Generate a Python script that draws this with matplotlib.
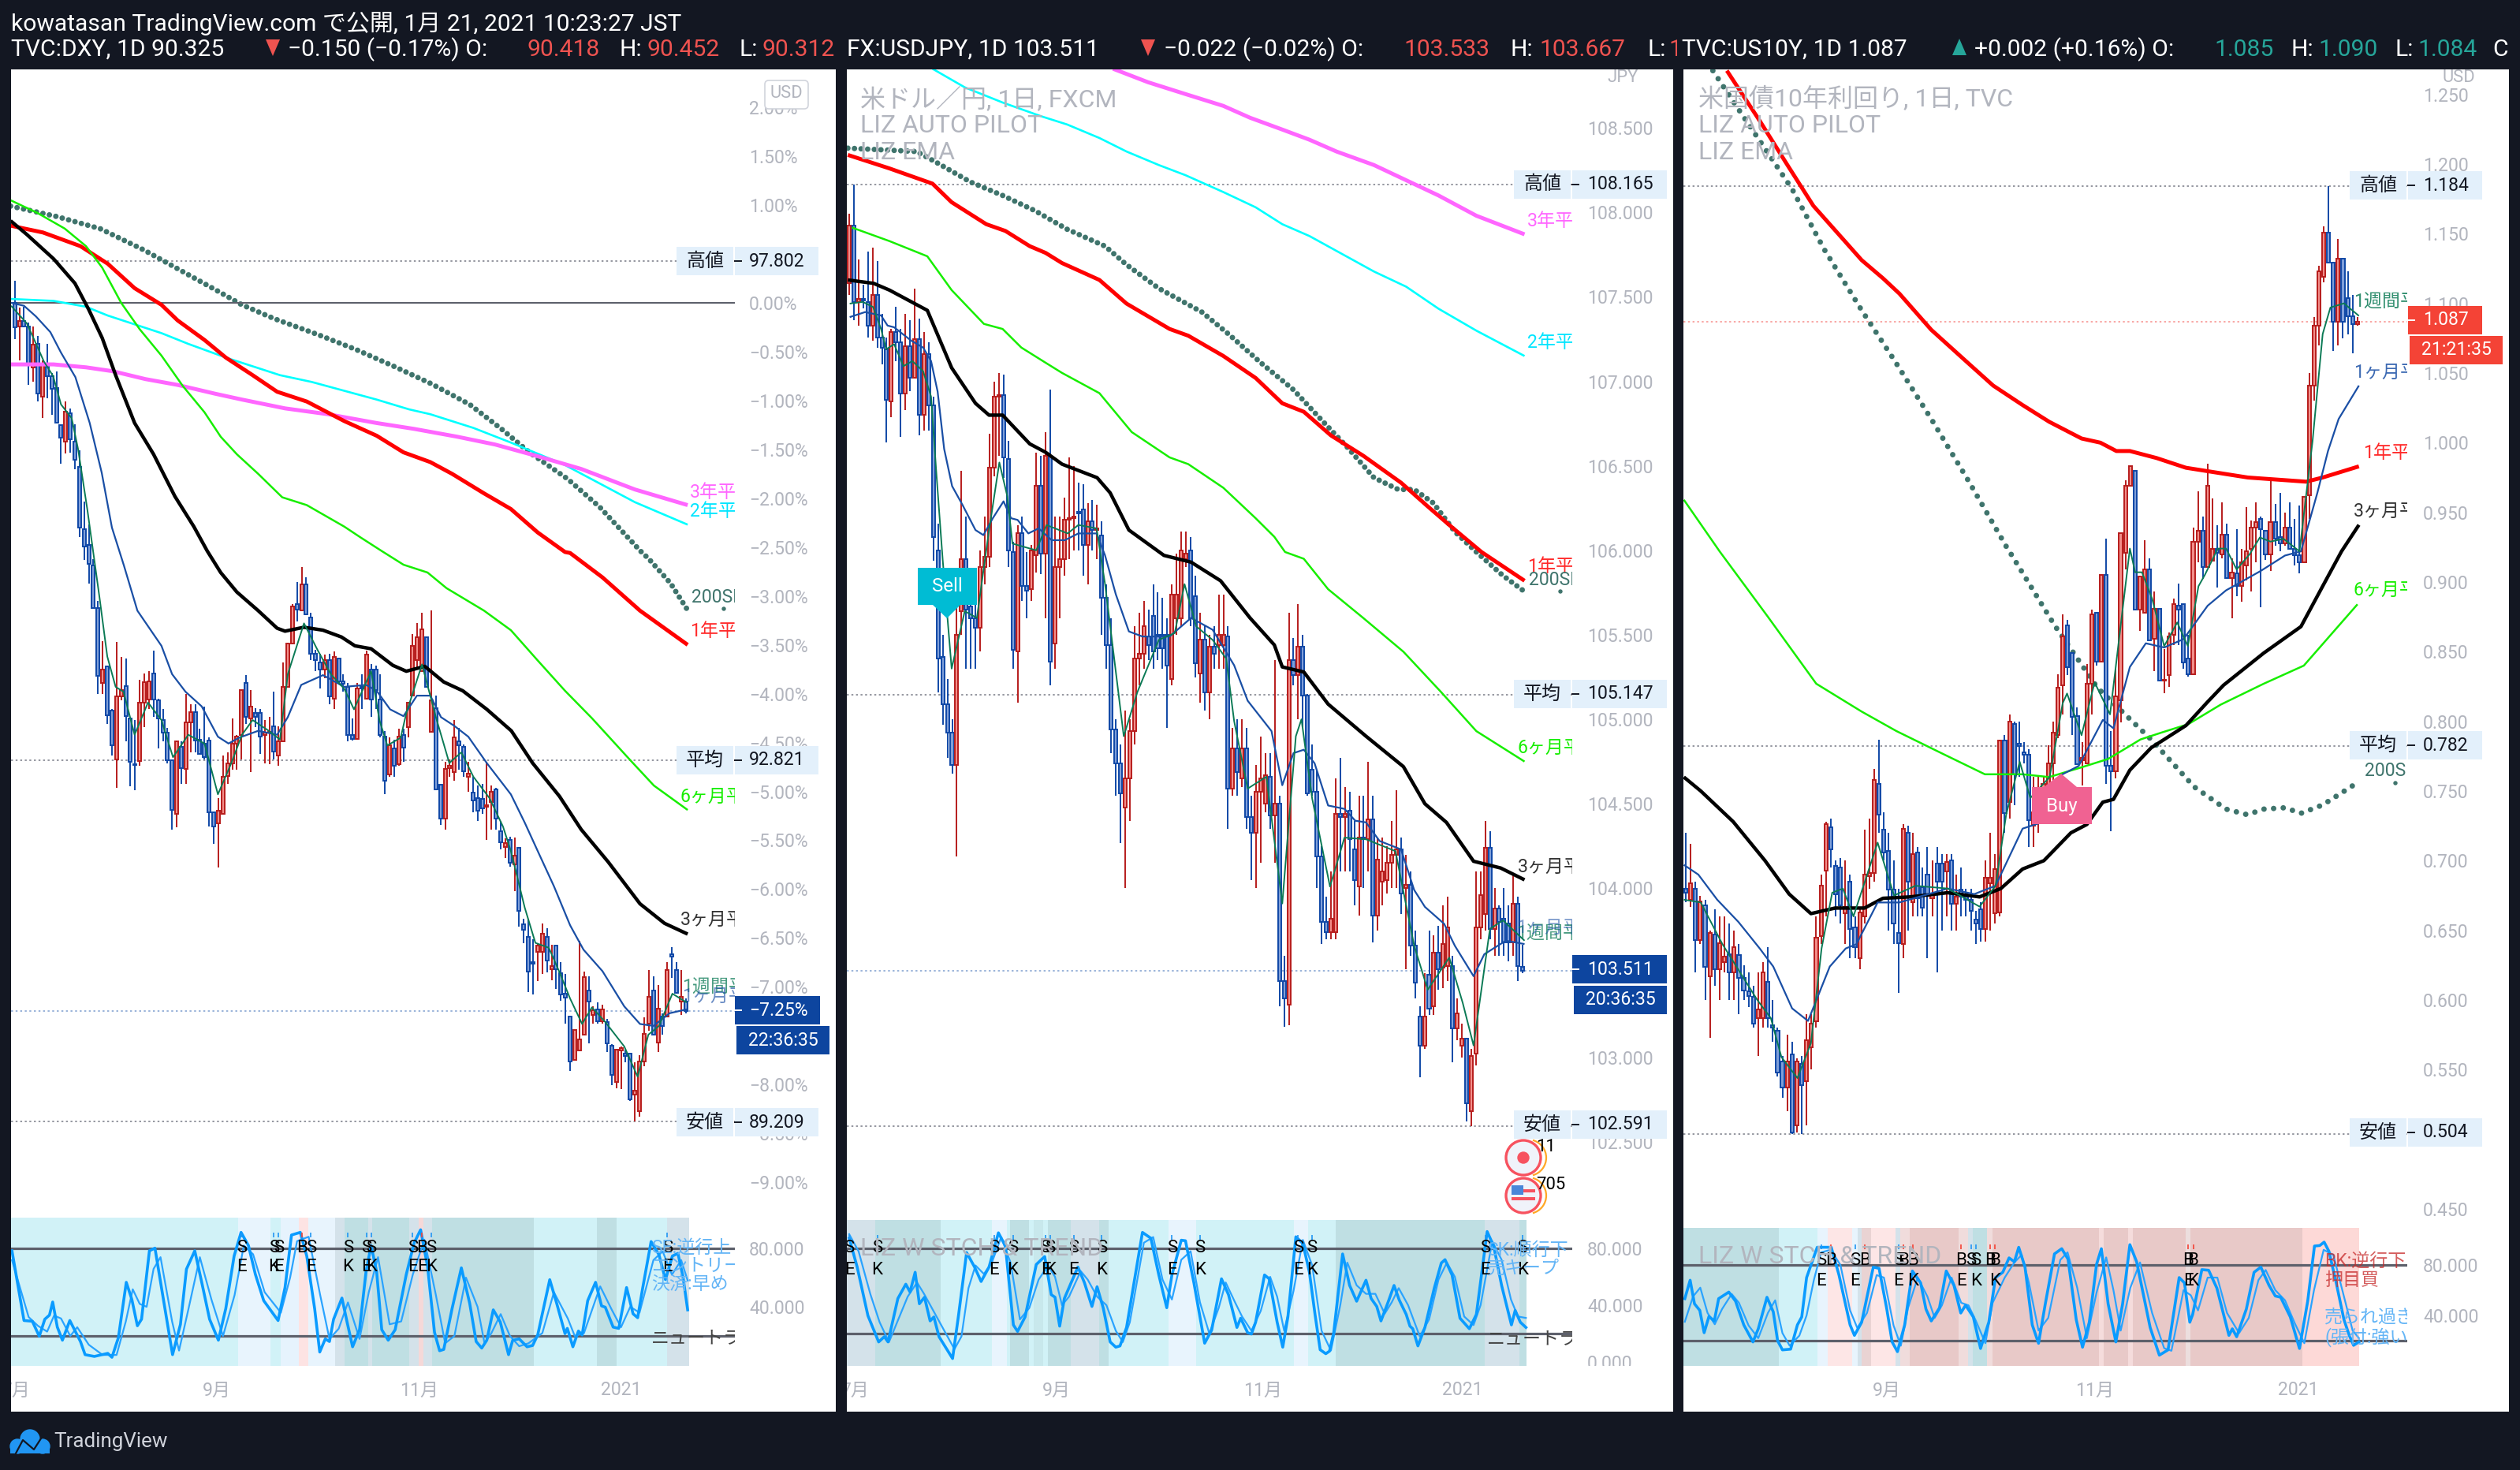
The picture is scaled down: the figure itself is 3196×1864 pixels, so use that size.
import matplotlib
matplotlib.use('Agg')
import matplotlib.pyplot as plt
from matplotlib.patches import Rectangle, Polygon, Circle, Arc, FancyBboxPatch
from matplotlib.transforms import Affine2D, Bbox, blended_transform_factory

plt.rcParams['font.family'] = ['Roboto', 'Noto Sans CJK JP', 'DejaVu Sans']

W, H = 3196, 1864
BG = '#131722'
GREY = '#b2b5be'
BOX = '#e3f0fb'
BLUE_EDGE, BLUE_FILL = '#0f47a6', '#7f9fd9'
RED_EDGE, RED_FILL = '#b71c1c', '#f28e8a'

# ---------- DXY, percent scale ----------
dxy_open = [0, -.245, -.183, -.245, -.66, -.42, -.96, -.65, -.75, -.87,
            -1.25, -1.42, -1.13, -1.42, -1.68, -2.32, -2.48, -2.69, -3.12, -3.89,
            -3.72, -4.17, -4.67, -4.03, -3.92, -4.25, -4.72, -4.69, -4.09, -4.06,
            -3.79, -4.07, -4.27, -4.40, -4.68, -5.23, -4.54, -4.77, -4.29, -4.19,
            -4.47, -4.51, -4.48, -5.21, -5.33, -5.23, -4.84, -4.71, -4.51, -4.42,
            -3.89, -4.25, -4.20, -4.20, -4.42, -4.40, -4.33, -4.63, -4.49, -3.93,
            -3.49, -3.08, -3.15, -2.88, -3.22, -3.59, -3.68, -3.75, -3.66, -4.05,
            -3.64, -3.87, -3.93, -4.42, -4.46, -3.93, -4.05, -3.75, -3.75, -4.06,
            -4.44, -4.83, -4.56, -4.72, -4.42, -4.34, -4.02, -3.66, -3.77, -3.42,
            -4.39, -4.15, -4.93, -5.28, -4.76, -4.80, -4.49, -4.54, -4.85, -5.01,
            -5.07, -5.08, -5.16, -5.11, -4.98, -5.41, -5.57, -5.50, -5.75, -5.58,
            -6.36, -6.49, -6.75, -6.64, -6.64, -6.49, -6.82, -6.58, -6.86, -7.07,
            -7.30, -7.75, -7.65, -7.49, -7.04, -7.29, -7.23, -7.35, -7.36, -7.60,
            -7.97, -7.65, -7.68, -7.68, -8.10, -8.27, -7.76, -7.38, -7.04, -7.57,
            -7.30, -7.30, -6.67, -6.83, -7.15, -7.15]
dxy_close = [-.25, -.183, -.245, -.64, -.43, -.93, -.62, -.75, -.88, -1.23,
             -1.38, -1.11, -1.40, -1.61, -2.30, -2.49, -2.67, -3.12, -3.82, -3.75,
             -4.22, -4.53, -4.03, -3.96, -4.23, -4.70, -4.73, -4.09, -3.88, -3.87,
             -4.06, -4.25, -4.40, -4.68, -5.19, -4.49, -4.76, -4.29, -4.19, -4.48,
             -4.62, -4.65, -5.21, -5.36, -5.20, -4.85, -4.71, -4.51, -4.44, -3.96,
             -4.24, -4.13, -4.24, -4.44, -4.40, -4.39, -4.59, -4.49, -3.93, -3.49,
             -3.11, -3.14, -2.88, -3.19, -3.59, -3.66, -3.75, -3.66, -4.03, -3.62,
             -3.87, -3.90, -4.42, -4.46, -3.95, -3.95, -3.60, -4.06, -3.96, -4.42,
             -4.89, -4.53, -4.74, -4.44, -4.55, -4.09, -3.51, -3.42, -3.34, -3.93,
             -4.07, -4.98, -5.28, -4.77, -4.74, -4.45, -4.53, -4.79, -4.82, -5.09,
             -5.20, -5.17, -5.14, -5.0, -5.28, -5.52, -5.53, -5.73, -5.66, -6.22,
             -6.42, -6.84, -6.76, -6.58, -6.46, -6.73, -6.79, -6.82, -7.08, -7.11,
             -7.76, -7.44, -7.54, -6.90, -7.15, -7.24, -7.35, -7.23, -7.58, -7.90,
             -7.64, -7.63, -7.71, -8.15, -8.06, -7.76, -7.48, -7.10, -7.49, -7.22,
             -7.40, -6.83, -6.69, -7.06, -7.10, -7.25]
dxy_high = [.23, -.05, -.04, -.2, -.245, -.34, -.59, -.42, -.72, -.70,
            -1.25, -1.01, -1.08, -1.24, -1.51, -2.03, -2.27, -2.62, -3.05, -3.46,
            -3.72, -4.16, -3.47, -3.62, -3.64, -4.25, -4.27, -3.86, -3.79, -3.77,
            -3.56, -4.05, -4.16, -4.35, -4.67, -4.49, -4.49, -4.0, -4.11, -4.11,
            -4.36, -4.13, -4.45, -5.21, -5.07, -4.63, -4.6, -4.25, -4.42, -3.96,
            -3.81, -3.96, -4.15, -4.16, -4.27, -4.24, -3.98, -4.33, -3.68, -3.48,
            -3.08, -2.86, -2.70, -2.81, -3.17, -3.55, -3.59, -3.6, -3.59, -3.57,
            -3.64, -3.80, -3.89, -4.25, -3.89, -3.80, -3.56, -3.70, -3.71, -3.80,
            -4.38, -4.45, -4.47, -4.36, -4.36, -4.09, -3.39, -3.28, -3.17, -3.42,
            -3.15, -4.02, -4.92, -4.70, -4.67, -4.27, -4.35, -4.52, -4.70, -4.85,
            -4.94, -4.92, -4.70, -4.94, -4.96, -5.30, -5.48, -5.46, -5.47, -5.57,
            -6.30, -6.30, -6.51, -6.56, -6.35, -6.40, -6.57, -6.58, -6.75, -6.87,
            -7.30, -7.44, -6.53, -6.84, -6.89, -7.20, -7.16, -7.18, -7.33, -7.59,
            -7.64, -7.61, -7.64, -7.68, -7.77, -7.70, -7.31, -6.83, -6.89, -6.98,
            -7.27, -6.75, -6.59, -6.75, -6.83, -7.12]
dxy_low = [-.37, -.59, -.25, -.84, -.81, -1.01, -1.18, -.98, -1.15, -1.23,
           -1.65, -1.54, -1.53, -1.70, -2.40, -2.63, -2.87, -3.12, -4.0, -4.0,
           -4.31, -4.63, -4.96, -4.07, -4.49, -4.95, -4.99, -4.74, -4.34, -4.16,
           -4.24, -4.56, -4.49, -4.71, -5.39, -5.37, -4.92, -4.92, -4.6, -4.60,
           -4.62, -4.67, -5.36, -5.54, -5.78, -5.23, -4.92, -4.78, -4.78, -4.67,
           -4.31, -4.80, -4.34, -4.62, -4.71, -4.72, -4.67, -4.74, -4.49, -3.93,
           -3.49, -3.26, -3.15, -3.19, -3.66, -3.77, -3.95, -3.84, -4.11, -4.16,
           -3.91, -3.98, -4.49, -4.48, -4.47, -4.16, -4.06, -4.24, -4.16, -4.45,
           -5.03, -4.85, -4.85, -4.74, -4.70, -4.45, -4.02, -3.73, -3.77, -3.93,
           -4.39, -4.98, -5.34, -5.39, -4.85, -4.89, -4.78, -4.85, -5.0, -5.21,
           -5.30, -5.23, -5.5, -5.39, -5.39, -5.59, -5.68, -5.77, -6.02, -6.38,
           -6.55, -7.05, -7.08, -6.94, -6.87, -6.85, -6.93, -7.02, -7.14, -7.38,
           -7.86, -7.75, -7.65, -7.49, -7.58, -7.38, -7.38, -7.38, -7.67, -8.01,
           -8.04, -8.05, -7.77, -8.17, -8.38, -8.33, -7.81, -7.45, -7.49, -7.67,
           -7.49, -7.31, -6.91, -7.07, -7.29, -7.27]

dxy_sma_x = [-.9, 9.1, 18.5, 27.9, 36.1, 44.3, 49, 56, 65.4, 73.6, 81.8, 90, 98.3, 105.3, 111.2, 119.4, 126.4, 135.2, 137, 141.7, 145.4]
dxy_sma_y = [.99, .883, .758, .541, .325, .109, -.018, -.161, -.323, -.475, -.647, -.828, -1.04, -1.296, -1.53, -1.80, -2.09, -2.54, -2.62, -2.87, -3.145]
dxy_y1_x = [-.9, 6.1, 14.2, 20.1, 25.9, 31.7, 35.2, 41, 45.6, 51.4, 56.7, 63.1, 71.2, 78.2, 84, 89.8, 94.5, 101.4, 107.2, 113, 118.9, 120, 127, 135.1, 145.4]
dxy_y1_y = [.79, .72, .58, .40, .15, -.02, -.18, -.38, -.56, -.74, -.91, -1.01, -1.21, -1.36, -1.53, -1.63, -1.75, -1.95, -2.11, -2.35, -2.55, -2.56, -2.81, -3.15, -3.50]
dxy_y3_x = [-.9, 8.4, 15.4, 21.2, 28.2, 35.2, 43.3, 49.1, 58.4, 67.7, 78.2, 86.3, 95.6, 103.8, 113, 122.4, 134, 145.4]
dxy_y3_y = [-.63, -.63, -.66, -.70, -.78, -.84, -.93, -.99, -1.08, -1.14, -1.23, -1.29, -1.37, -1.45, -1.57, -1.70, -1.91, -2.07]
dxy_y2_x = [-.9, 8.4, 15.4, 20.1, 25.9, 31.7, 37.5, 45.6, 57.3, 64.2, 78.2, 85.2, 89.8, 99.1, 107.2, 118.9, 134, 145.4]
dxy_y2_y = [.04, .02, -.04, -.13, -.22, -.31, -.42, -.56, -.74, -.81, -.99, -1.09, -1.14, -1.28, -1.43, -1.66, -2.04, -2.27]
dxy_m6_x = [-.9, 4.9, 10.8, 15.4, 18.9, 23, 27, 31.7, 36.3, 41, 44.5, 48, 52.6, 57.8, 63.1, 71.2, 74.7, 79.3, 84, 89.2, 93.3, 101.4, 107.2, 113, 118.9, 124.7, 132.8, 138.1, 145.4]
dxy_m6_y = [1.05, .92, .76, .58, .36, 0, -.27, -.54, -.85, -1.12, -1.37, -1.55, -1.75, -1.99, -2.07, -2.29, -2.40, -2.54, -2.68, -2.76, -2.92, -3.15, -3.35, -3.66, -3.97, -4.25, -4.67, -4.94, -5.19]
dxy_m3_x = [-.9, 2.6, 8.4, 13, 16, 18.9, 21.8, 25.9, 30, 34.6, 38.7, 41.6, 44.5, 48, 52.6, 56.7, 58.4, 62.5, 66.6, 70.6, 73.5, 77, 81.7, 84.6, 88.6, 92.7, 96.8, 102, 107.3, 111.9, 117.7, 122.4, 128.2, 135.1, 140.4, 145.4]
dxy_m3_y = [.84, .70, .45, .20, -.07, -.36, -.74, -1.23, -1.55, -1.98, -2.29, -2.54, -2.76, -2.96, -3.15, -3.33, -3.36, -3.32, -3.35, -3.42, -3.51, -3.54, -3.71, -3.77, -3.72, -3.88, -3.97, -4.16, -4.38, -4.71, -5.05, -5.39, -5.72, -6.15, -6.35, -6.46]
dxy_m1_x = [-.8, 2, 4.6, 7.7, 10, 13.1, 16.2, 18.8, 21, 23.6, 26.5, 31.7, 34, 36.9, 40.4, 43.9, 46.2, 48.5, 52.6, 56.7, 59, 61.9, 66.6, 71.2, 75.9, 78.2, 81.1, 84, 86.9, 89.8, 92.1, 95, 98, 102, 107.2, 110.2, 113, 116.5, 120, 122.9, 127, 131.7, 135.1, 138, 141.5, 145.2]
dxy_m1_y = [0, -.03, -.14, -.30, -.51, -.76, -1.23, -1.74, -2.30, -2.69, -3.15, -3.51, -3.80, -3.98, -4.13, -4.44, -4.51, -4.45, -4.38, -4.42, -4.24, -3.91, -3.81, -3.93, -3.91, -3.97, -4.16, -4.23, -4.02, -4.02, -4.24, -4.33, -4.44, -4.71, -5.03, -5.32, -5.61, -5.97, -6.37, -6.62, -6.84, -7.20, -7.38, -7.40, -7.27, -7.23]
dxy_w1_x = [-.8, 2.6, 4.9, 6.3, 8.3, 10, 12.3, 13.7, 15.7, 18.3, 20, 21.8, 23.5, 25.9, 28.8, 31.7, 34.2, 37.5, 41, 43.9, 46.8, 49.1, 51.4, 54.9, 57.3, 59, 62.5, 65.4, 68.3, 71.2, 73.3, 77, 78.8, 80.5, 83.4, 84.6, 88, 91, 93.9, 96.5, 99.1, 102.6, 105.5, 107.2, 110.2, 112.5, 115.4, 117.7, 120, 122.6, 124.7, 127.6, 131.7, 134.6, 136.9, 139.2, 142.1, 145.2]
dxy_w1_y = [-.03, -.21, -.45, -.60, -.75, -1.04, -1.18, -1.50, -2.12, -3.01, -3.62, -3.93, -3.98, -4.42, -4.09, -4.27, -4.65, -4.42, -4.51, -5.03, -4.71, -4.42, -4.27, -4.38, -4.47, -3.80, -3.28, -3.55, -3.80, -3.95, -4.16, -3.77, -4.27, -4.53, -4.45, -4.20, -3.70, -4.24, -4.71, -4.60, -4.85, -5.07, -5.36, -5.61, -6.19, -6.55, -6.60, -6.85, -7.12, -7.38, -7.21, -7.36, -7.61, -7.92, -7.49, -7.40, -7.07, -7.16]

dxy_k_x = [-.6, 2, 3.8, 5.3, 6.5, 7.5, 8.2, 9.2, 10.3, 11.9, 14.2, 15.2, 17.2, 20.1, 21, 22.4, 24.1, 25.3, 26.5, 27.4, 29.1, 30.3, 31.7, 34.1, 35.8, 37.1, 38.9, 40.4, 42.1, 44, 45.6, 47.4, 48.9, 50.5, 52, 53.8, 56.9, 58.4, 59.8, 61.7, 63.1, 64.8, 65.9, 67.1, 68, 68.9, 70.7, 71.8, 73, 74.5, 75.9, 77, 78.2, 79.3, 80.7, 82.2, 84.6, 86.3, 87.7, 89.2, 90.7, 91.8, 92.7, 94.5, 96.5, 98.3, 99.7, 100.9, 102, 103.4, 104.9, 106.7, 107.6, 109, 110.7, 111.9, 113, 115.6, 117.1, 118.9, 119.4, 120.6, 121.8, 122.6, 123.8, 125.5, 126.8, 127.6, 129.3, 130.5, 132.2, 133.6, 134.6, 135.7, 137.5, 139.2, 140.6, 142.1, 143.3, 144.4, 145.4]
dxy_k_y = [78.4, 30.6, 30.1, 19.8, 31.5, 34.3, 43.3, 26.1, 17.1, 30.6, 16.2, 7.2, 6, 8.1, 5.4, 18.9, 56.8, 45.1, 27, 31.5, 78.4, 80.2, 53.2, 7.2, 27.9, 65.8, 78.4, 56.8, 31.5, 17.1, 38.8, 74.8, 91, 82, 62.2, 44.2, 30.6, 53.2, 89.2, 91, 74.8, 38.8, 9, 18, 16.2, 31.5, 46, 29.7, 12.6, 24.3, 64, 82, 64, 24.3, 17.1, 24.3, 62.2, 83.8, 92.8, 67.6, 22.5, 9.9, 10.8, 38.8, 66.7, 42.4, 16.2, 11.7, 17.1, 37.9, 29.7, 7.2, 17.1, 18, 12.6, 13.5, 20.7, 58.6, 42.4, 21.6, 25.2, 12.6, 23.4, 20.7, 44.2, 56.8, 40.6, 39.7, 26.1, 25.2, 53.2, 35.2, 32.5, 53.2, 84.7, 75.7, 58.6, 74.8, 76.6, 60.4, 37.9]
dxy_d_x = [-.6, 3, 5, 7, 8.5, 10, 12, 13.5, 16, 19, 22, 24, 25.5, 27, 28.5, 30, 31.5, 34, 35.5, 37.5, 40, 42.5, 45, 47.5, 49.5, 51.5, 54, 57.5, 59.5, 61, 63.5, 66, 68, 70, 72, 74.5, 76.5, 78.5, 81, 83.5, 86, 88.5, 91, 93, 95, 97.5, 100, 101.5, 103, 105, 107, 109, 111, 114, 116.5, 119.5, 121, 123, 126.5, 129, 131, 133, 135, 138, 140, 142, 144, 145.4]
dxy_d_y = [72, 33, 27, 23, 34, 32, 20, 26, 14, 7, 7, 30, 52, 42, 40, 66, 74, 30, 10, 38, 74, 45, 20, 48, 82, 76, 50, 36, 60, 85, 88, 48, 18, 25, 43, 18, 50, 74, 28, 30, 62, 86, 48, 15, 20, 60, 40, 15, 22, 35, 20, 13, 15, 22, 50, 32, 20, 22, 54, 38, 26, 40, 36, 72, 78, 62, 72, 58]

dxy_band_edges = [-.9, 48.3, 55.3, 57.5, 61.4, 63.4, 69.3, 71.2, 76.3, 77.2, 85.2, 87.2, 88.3, 90.1, 112.1, 125.8, 130, 141, 145.8]
dxy_band_colors = ['#d1f2f7', '#e8f4fd', '#d1f2f7', '#e6f3fd', '#fde3e3', '#e8f4fd', '#d4e2ea', '#bfdfe3', '#d4e2ea', '#bfdfe3', '#d4e2ea', '#f5d8d8', '#d4e2ea', '#bfdfe3', '#d1f2f7', '#bfdfe3', '#d1f2f7', '#d4e2ea']
dxy_sig_x = [49, 56, 57, 62, 64, 72, 76, 77, 86, 88, 90, 141]
dxy_sig_top = ['S', 'S', 'S', 'B', 'S', 'S', 'S', 'S', 'S', 'B', 'S', 'S']
dxy_sig_bot = ['E', 'K', 'E', '', 'E', 'K', 'E', 'K', 'E', 'E', 'K', 'E']
dxy_ticks = [2.0, 1.5, 1.0, .5, 0, -.5, -1, -1.5, -2, -2.5, -3, -3.5, -4, -4.5, -5, -5.5, -6, -6.5, -7, -7.5, -8, -8.5, -9]

# ---------- USDJPY ----------
jpy_open = [107.58, 107.92, 107.47, 107.49, 107.47, 107.33, 107.51, 107.26, 107.19, 106.88,
            107.29, 107.23, 106.93, 107.21, 107.02, 107.25, 106.80, 107.16, 106.86, 106.0,
            105.37, 105.09, 104.92, 104.73, 105.64, 105.95, 105.67, 105.6, 105.54, 105.9,
            105.96, 106.49, 106.91, 106.92, 106.54, 105.99, 105.4, 106.1, 105.79, 105.77,
            105.97, 106.38, 105.98, 106.56, 105.45, 105.9, 105.95, 106.18, 106.19, 106.23,
            106.24, 106.03, 106.17, 106.12, 106.09, 105.72, 105.44, 104.94, 104.74, 104.48,
            104.65, 104.93, 105.36, 105.39, 105.49, 105.61, 105.5, 105.5, 105.5, 105.24,
            105.6, 105.6, 105.95, 106.0, 105.73, 105.27, 105.47, 105.16, 105.43, 105.44,
            105.44, 105.49, 104.59, 104.83, 104.65, 104.83, 104.42, 104.33, 104.57, 104.5,
            104.66, 104.43, 104.5, 103.45, 103.31, 105.35, 105.26, 105.43, 105.14, 104.7,
            104.57, 104.19, 103.8, 103.74, 103.74, 104.44, 104.42, 104.46, 104.23, 104.01,
            104.3, 104.29, 104.41, 103.84, 104.04, 104.05, 104.15, 104.2, 104.23, 104.0,
            104.02, 103.66, 103.24, 103.07, 103.49, 103.3, 103.62, 103.53, 103.54, 103.54,
            103.17, 103.07, 103.11, 102.68, 103.02, 103.77, 103.85, 104.24, 103.76, 103.88,
            103.82, 103.79, 103.68, 103.91, 103.533]
jpy_close = [107.92, 107.47, 107.49, 107.48, 107.33, 107.51, 107.26, 107.20, 106.89, 107.29,
             107.23, 106.93, 107.21, 107.02, 107.25, 106.80, 107.16, 106.86, 106.08, 105.36,
             105.09, 104.92, 104.73, 105.5, 105.95, 105.65, 105.6, 105.54, 105.9, 105.96,
             106.49, 106.91, 106.92, 106.55, 106.0, 105.41, 106.1, 105.79, 105.76, 106.0,
             106.38, 105.98, 106.56, 105.34, 105.9, 105.95, 106.18, 106.19, 106.2, 106.22,
             106.03, 106.17, 106.12, 106.13, 105.72, 105.44, 104.94, 104.74, 104.56, 104.65,
             104.93, 105.36, 105.39, 105.55, 105.44, 105.4, 105.42, 105.42, 105.32, 105.74,
             105.74, 106.0, 105.98, 105.6, 105.33, 105.47, 105.16, 105.43, 105.39, 105.5,
             105.5, 104.59, 104.83, 104.69, 104.83, 104.42, 104.33, 104.57, 104.65, 104.67,
             104.43, 104.5, 103.45, 103.35, 105.35, 105.26, 105.43, 105.14, 104.56, 104.57,
             104.19, 103.8, 103.74, 103.82, 104.44, 104.42, 104.44, 104.29, 104.05, 104.3,
             104.29, 104.41, 103.84, 104.17, 104.1, 104.15, 104.2, 104.23, 103.97, 104.02,
             103.66, 103.44, 103.07, 103.24, 103.29, 103.62, 103.52, 103.67, 103.77, 103.17,
             103.26, 103.11, 102.73, 103.01, 103.77, 103.96, 104.24, 103.76, 103.88, 103.8,
             103.68, 103.68, 103.91, 103.54, 103.511]
jpy_high = [107.99, 108.165, 107.72, 107.57, 107.77, 107.79, 107.71, 107.40, 107.26, 107.31,
            107.44, 107.31, 107.40, 107.36, 107.55, 107.37, 107.29, 107.23, 106.91, 106.16,
            105.5, 105.24, 105.0, 105.7, 106.47, 106.2, 105.8, 105.8, 106.0, 106.2,
            106.69, 107.0, 107.05, 107.04, 106.65, 106.05, 106.15, 106.2, 105.99, 106.03,
            106.58, 106.56, 106.70, 106.95, 106.2, 106.2, 106.31, 106.55, 106.5, 106.4,
            106.39, 106.28, 106.3, 106.27, 106.17, 105.8, 105.6, 105.0, 104.85, 105.05,
            105.0, 105.55, 105.63, 105.70, 105.65, 105.8, 105.75, 105.72, 105.6, 105.8,
            105.98, 106.11, 106.11, 106.08, 105.85, 105.63, 105.55, 105.5, 105.55, 105.74,
            105.74, 105.55, 104.95, 105.0, 105.0, 104.95, 104.55, 104.73, 104.9, 104.8,
            104.8, 105.35, 104.55, 103.6, 105.63, 105.48, 105.68, 105.5, 105.15, 104.85,
            104.7, 104.25, 103.95, 104.1, 104.65, 104.77, 104.6, 104.57, 104.4, 104.55,
            104.55, 104.75, 104.55, 104.3, 104.3, 104.25, 104.4, 104.58, 104.3, 104.2,
            104.1, 103.75, 103.3, 103.5, 103.75, 103.72, 103.78, 103.9, 103.95, 103.6,
            103.35, 103.2, 103.11, 103.05, 104.1, 104.1, 104.4, 104.34, 104.0, 103.9,
            104.0, 103.9, 104.08, 103.95, 103.667]
jpy_low = [107.51, 107.36, 107.33, 107.43, 107.26, 107.24, 107.20, 107.10, 106.64, 106.79,
           107.12, 106.67, 106.83, 106.94, 107.02, 106.68, 106.71, 106.71, 105.94, 105.16,
           104.97, 104.77, 104.68, 104.19, 105.5, 105.3, 105.30, 105.3, 105.4, 105.8,
           105.9, 106.44, 106.56, 106.43, 105.9, 105.3, 105.1, 105.7, 105.6, 105.7,
           105.87, 105.86, 105.6, 105.2, 105.3, 105.6, 105.85, 105.95, 106.0, 106.0,
           105.85, 105.8, 106.0, 105.95, 105.5, 105.3, 104.8, 104.55, 104.27, 104.0,
           104.4, 104.85, 105.2, 105.3, 105.35, 105.3, 105.35, 105.3, 104.95, 105.2,
           105.5, 105.55, 105.9, 105.55, 105.25, 105.1, 105.05, 105.0, 105.3, 105.3,
           105.3, 104.35, 104.55, 104.55, 104.6, 104.35, 104.05, 104.0, 104.15, 104.45,
           104.35, 104.15, 103.3, 103.18, 103.19, 105.2, 105.0, 104.95, 104.55, 104.55,
           104.0, 103.67, 103.7, 103.7, 103.7, 104.1, 104.1, 104.1, 103.9, 103.84,
           104.0, 104.1, 103.68, 103.75, 103.9, 103.97, 104.0, 104.0, 103.85, 103.52,
           103.6, 103.35, 102.88, 103.05, 103.25, 103.25, 103.4, 103.41, 103.45, 102.97,
           103.1, 103.0, 102.62, 102.591, 102.95, 103.7, 103.75, 103.7, 103.6, 103.6,
           103.6, 103.57, 103.6, 103.45, 103.5]

jpy_sma_x = [-.3, 14.4, 19, 25.9, 32.8, 39.7, 46.6, 54.7, 59.3, 66.2, 75.4, 81.1, 88, 95, 100.7, 106.5, 112.2, 117.4, 120.8, 124.9, 129.5, 134.1, 139.8, 144.2]
jpy_sma_y = [108.38, 108.36, 108.29, 108.18, 108.10, 108.01, 107.90, 107.80, 107.69, 107.55, 107.41, 107.28, 107.11, 106.95, 106.78, 106.61, 106.43, 106.36, 106.36, 106.28, 106.11, 105.99, 105.85, 105.76]
jpy_y3_x = [56.4, 63.9, 71.9, 80, 85.7, 92.6, 98.4, 104.2, 112.2, 119.1, 126, 134.1, 144.4]
jpy_y3_y = [108.85, 108.77, 108.70, 108.63, 108.56, 108.49, 108.43, 108.36, 108.28, 108.19, 108.10, 107.98, 107.87]
jpy_y2_x = [17.8, 24.7, 32.8, 40.9, 46.6, 53.5, 59.3, 66.2, 71.9, 80, 86.9, 92.6, 98.4, 103, 112.2, 119.1, 126, 134.1, 144.4]
jpy_y2_y = [108.85, 108.74, 108.65, 108.57, 108.52, 108.44, 108.36, 108.28, 108.22, 108.12, 108.03, 107.93, 107.86, 107.79, 107.65, 107.56, 107.43, 107.30, 107.15]
jpy_y1_x = [-.3, 8.6, 17.8, 21.9, 29.3, 33.4, 38.6, 42, 45.5, 53.5, 59.3, 68.5, 72.5, 80, 86.9, 92.6, 97.2, 103, 109.9, 118, 123.7, 128.3, 135.2, 144.4]
jpy_y1_y = [108.34, 108.26, 108.17, 108.06, 107.93, 107.89, 107.80, 107.76, 107.70, 107.60, 107.46, 107.31, 107.27, 107.15, 107.02, 106.87, 106.82, 106.68, 106.56, 106.40, 106.26, 106.15, 105.99, 105.82]
jpy_m6_x = [.6, 8.6, 16.7, 21.9, 28.8, 32.8, 36.8, 42, 45.5, 53.5, 60.4, 68.5, 72.5, 80, 86.9, 90.9, 93.2, 97.2, 102.4, 109.9, 118.5, 126.6, 134.1, 144.4]
jpy_m6_y = [107.91, 107.83, 107.74, 107.54, 107.34, 107.31, 107.20, 107.11, 107.05, 106.93, 106.70, 106.55, 106.51, 106.37, 106.19, 106.08, 105.99, 105.95, 105.77, 105.60, 105.40, 105.16, 104.93, 104.75]
jpy_m3_x = [-.3, 5.2, 8.6, 16.7, 21.9, 27, 29.9, 32.8, 38.6, 42, 45.5, 53, 55.8, 59.8, 67.3, 73.1, 79.4, 85.7, 90.9, 92.6, 97.2, 102.4, 110.5, 118.5, 123.1, 127.7, 133.5, 139.3, 144.4]
jpy_m3_y = [107.60, 107.58, 107.54, 107.42, 107.08, 106.87, 106.80, 106.80, 106.63, 106.58, 106.51, 106.43, 106.34, 106.12, 105.97, 105.93, 105.82, 105.60, 105.44, 105.31, 105.28, 105.09, 104.90, 104.72, 104.50, 104.39, 104.16, 104.12, 104.05]
jpy_m1_x = [.1, 3.4, 6.8, 8.2, 9.6, 11.9, 13.3, 15.8, 17.5, 18.9, 20.3, 22, 24.2, 27, 28.7, 30.7, 33, 34.6, 36, 38.3, 40.5, 43.3, 46.1, 49, 52.9, 54.7, 57, 59.8, 62.7, 68.5, 73.1, 77.7, 82.3, 85.2, 90.3, 92.6, 95, 97.2, 99.5, 102.4, 105.9, 108.2, 110.5, 113.4, 118, 120.8, 123.1, 127.2, 129.5, 133.5, 135.8, 140.4, 144.4]
jpy_m1_y = [107.38, 107.41, 107.39, 107.33, 107.32, 107.27, 107.24, 107.20, 107.12, 106.94, 106.60, 106.38, 106.27, 106.12, 106.09, 106.19, 106.29, 106.19, 106.18, 106.10, 106.13, 106.06, 106.06, 106.10, 106.10, 105.97, 105.74, 105.52, 105.49, 105.49, 105.60, 105.53, 105.32, 105.11, 104.93, 104.61, 104.80, 104.82, 104.74, 104.49, 104.47, 104.40, 104.39, 104.28, 104.23, 103.99, 103.89, 103.79, 103.66, 103.48, 103.61, 103.69, 103.67]
jpy_w1_x = [.1, 2.9, 5.1, 6.8, 7.9, 9.6, 11.6, 13.5, 15.8, 17.5, 18.6, 20, 21.9, 24.7, 27.3, 29.8, 32.1, 33.8, 34.9, 40, 42.2, 46.7, 49, 52.9, 54.7, 58.7, 61.6, 66.2, 69.6, 71.7, 74.2, 77.7, 80.6, 82.3, 85.2, 89.2, 92.6, 95.5, 96.7, 99, 102.8, 105.9, 110.5, 116.8, 120.8, 123.7, 128.3, 131.2, 133.5, 137, 139.8, 144.4]
jpy_w1_y = [107.46, 107.47, 107.44, 107.31, 107.19, 107.22, 107.09, 107.12, 107.06, 106.91, 106.47, 105.94, 105.30, 105.64, 105.60, 106.1, 106.52, 106.32, 106.04, 106.0, 106.15, 106.1, 106.15, 106.13, 105.80, 104.9, 105.16, 105.47, 105.51, 105.80, 105.55, 105.47, 105.36, 104.99, 104.59, 104.66, 103.91, 104.9, 105.0, 104.53, 104.01, 104.30, 104.29, 104.22, 103.66, 103.4, 103.59, 103.32, 103.07, 103.76, 103.81, 103.69]

jpy_k_x = [0, 1.7, 4, 6.3, 7.5, 8.3, 10.4, 12.1, 13, 14.1, 15, 16.1, 17.3, 18.1, 19.2, 22.1, 23.4, 25.1, 26.8, 28.2, 29.9, 31.9, 33.4, 35.1, 36, 37.6, 40, 41.8, 43.2, 44, 45, 46, 48.9, 50.3, 51.9, 53, 54.3, 55.8, 57, 57.9, 59.3, 62.7, 64.5, 66.2, 67.9, 69, 71, 71.9, 73.7, 76, 77.5, 79.6, 81.1, 82.9, 83.7, 85.2, 86, 86.9, 88.8, 89.8, 91.5, 92.7, 93.8, 95.5, 97, 98.4, 99.6, 100.7, 101.9, 102.7, 103.6, 105.5, 107, 108.5, 110.5, 111.6, 112.8, 113.7, 115.1, 116.5, 117.6, 119.1, 119.9, 120.5, 121.6, 123.1, 125.1, 126.6, 127.4, 128.9, 130.6, 132.6, 134.1, 136.4, 137.8, 139.5, 141.6, 142.4, 143.5, 144.7]
jpy_k_y = [87.2, 66.9, 32.6, 14.1, 17.8, 14.1, 44.7, 54.8, 49.3, 63.2, 41, 45.6, 28.9, 31.7, 17.8, 2.4, 33.5, 77.1, 66.9, 56.7, 66.9, 91, 81.7, 26.1, 21.5, 31.7, 68.7, 74.3, 47.4, 45.6, 25.2, 44.7, 66.9, 55.8, 39.1, 53, 38.2, 14.1, 10.4, 11.3, 24.3, 91.3, 87.2, 61.3, 38.2, 61.3, 85.8, 85.4, 55.8, 13.2, 22.4, 58.6, 47.4, 24.3, 30.8, 20.6, 19.7, 28, 61.3, 58.6, 28, 10.4, 31.7, 88.2, 83.5, 63.2, 33.5, 8.6, 5.8, 7.6, 20.6, 76.1, 53.9, 42.8, 57.6, 44.7, 39.1, 28.9, 41, 53.9, 43.7, 33.5, 25.2, 23.4, 11.3, 24.3, 52, 69.7, 72.1, 61.3, 30.8, 23.4, 33.5, 91.9, 81.7, 53.9, 26.1, 36.3, 28, 24.3]
jpy_d_x = [0, 2, 4.5, 6.5, 8.5, 10.5, 12.5, 14.5, 16, 18, 20, 22.5, 24, 25.5, 27, 28.8, 30.5, 32.5, 34.5, 36.5, 38.5, 40.5, 42.5, 44, 45.5, 47, 49.5, 51, 53, 55, 57, 58.5, 60, 63, 65, 67, 69, 71, 73, 75, 77, 79, 80.5, 82.5, 84, 86, 88, 90, 91.5, 93, 95, 97, 99, 101, 103, 105, 106.5, 108.5, 110.5, 112.5, 114.5, 116, 117.5, 119.5, 122, 124, 126, 127.8, 129.5, 131.5, 133.5, 135, 137.5, 139.5, 141.5, 143, 144.7]
jpy_d_y = [90, 78, 48, 28, 14, 30, 46, 56, 48, 36, 24, 9, 18, 52, 68, 62, 70, 88, 70, 30, 38, 58, 68, 60, 40, 46, 64, 58, 46, 40, 22, 14, 28, 84, 88, 58, 44, 72, 78, 42, 20, 38, 56, 42, 32, 22, 36, 60, 46, 22, 50, 86, 68, 22, 8, 40, 70, 54, 48, 48, 34, 42, 52, 40, 18, 30, 58, 70, 60, 32, 26, 40, 85, 72, 44, 32, 31]

jpy_band_edges = [-.6, 5.5, 19.6, 30.5, 33.7, 34.4, 38.4, 39.5, 41.4, 42.4, 47.4, 53.4, 55.4, 68.2, 74.2, 95.1, 98.2, 104, 135.9, 143.3, 144.9]
jpy_band_colors = ['#d4e2ea', '#bfdfe3', '#d1f2f7', '#e8f4fd', '#d1f2f7', '#bfdfe3', '#d1f2f7', '#c8e8ec', '#d1f2f7', '#bfdfe3', '#d4e2ea', '#bfdfe3', '#d1f2f7', '#e8f4fd', '#d1f2f7', '#e8f4fd', '#d1f2f7', '#bfdfe3', '#d4e2ea', '#bfdfe3']
jpy_sig_x = [0, 6, 31, 35, 42, 43, 48, 54, 69, 75, 96, 99, 136, 144]
jpy_sig_top = ['S'] * 14
jpy_sig_bot = ['E', 'K', 'E', 'K', 'E', 'K', 'E', 'K', 'E', 'K', 'E', 'K', 'E', 'K']
jpy_ticks = [102.5, 103, 103.5, 104, 104.5, 105, 105.5, 106, 106.5, 107, 107.5, 108, 108.5]

# ---------- US10Y ----------
tnx_open = [.68, .672, .68, .643, .668, .617, .647, .622, .627, .633,
            .62, .632, .616, .606, .602, .587, .587, .613, .582, .578,
            .556, .537, .561, .51, .554, .542, .566, .585, .646, .693,
            .724, .696, .695, .662, .685, .652, .63, .66, .689, .691,
            .755, .722, .707, .679, .648, .64, .72, .67, .706, .681,
            .69, .673, .698, .698, .692, .7, .669, .679, .674, .672,
            .658, .665, .651, .684, .662, .663, .786, .742, .798, .784,
            .778, .776, .725, .735, .742, .752, .770, .790, .826, .869,
            .849, .804, .772, .770, .827, .878, .843, .905, .768, .764,
            .815, .921, .969, .98, .88, .878, .909, .859, .881, .829,
            .833, .862, .883, .884, .845, .834, .929, .937, .911, .915,
            .924, .920, .934, .903, .906, .897, .912, .924, .939, .945,
            .937, .920, .943, .932, .928, .939, .924, .919, .914, .962,
            1.041, 1.084, 1.119, 1.151, 1.129, 1.087, 1.132, 1.104, 1.091, 1.085]
tnx_close = [.677, .684, .643, .671, .624, .648, .622, .641, .631, .62,
             .638, .616, .607, .603, .583, .593, .62, .587, .58, .548,
             .537, .556, .505, .556, .539, .571, .583, .645, .682, .726,
             .708, .676, .668, .667, .651, .638, .663, .69, .691, .758,
             .733, .706, .679, .655, .641, .723, .685, .705, .673, .666,
             .675, .676, .685, .685, .699, .669, .674, .674, .672, .664,
             .655, .651, .688, .688, .694, .786, .734, .80, .762, .782,
             .776, .729, .735, .745, .755, .77, .792, .824, .861, .839,
             .803, .769, .774, .827, .877, .843, .905, .768, .764, .818,
             .935, .969, .983, .88, .904, .909, .858, .881, .829, .830,
             .861, .884, .88, .842, .834, .929, .937, .911, .969, .924,
             .921, .934, .903, .907, .897, .914, .922, .939, .943, .938,
             .920, .943, .931, .928, .939, .924, .919, .914, .961, 1.041,
             1.084, 1.123, 1.151, 1.129, 1.087, 1.132, 1.087, 1.091, 1.085, 1.087]
tnx_high = [.72, .712, .685, .675, .672, .65, .665, .66, .66, .655,
            .65, .64, .625, .62, .61, .62, .627, .638, .6, .58,
            .56, .575, .57, .558, .56, .59, .59, .66, .69, .728,
            .73, .7, .702, .7, .69, .66, .665, .722, .73, .766,
            .787, .735, .72, .7, .68, .726, .725, .72, .71, .695,
            .71, .70, .71, .705, .705, .705, .69, .695, .68, .68,
            .664, .67, .7, .72, .705, .787, .79, .805, .80, .80,
            .785, .78, .76, .76, .76, .783, .80, .834, .877, .873,
            .849, .81, .785, .841, .88, .878, .905, .931, .793, .838,
            .935, .973, .983, .98, .904, .930, .917, .893, .881, .852,
            .864, .888, .899, .884, .862, .939, .965, .947, .985, .960,
            .941, .957, .942, .917, .938, .924, .954, .944, .957, .947,
            .937, .973, .956, .964, .950, .957, .945, .955, .961, 1.05,
            1.09, 1.127, 1.155, 1.184, 1.13, 1.146, 1.132, 1.123, 1.106, 1.090]
tnx_low = [.67, .667, .62, .64, .60, .573, .61, .60, .62, .60,
           .60, .59, .60, .595, .58, .56, .58, .58, .57, .545,
           .53, .52, .504, .505, .504, .51, .55, .58, .64, .66,
           .695, .66, .655, .64, .63, .63, .622, .655, .68, .685,
           .72, .70, .65, .64, .605, .63, .65, .66, .66, .66,
           .63, .66, .62, .65, .66, .65, .65, .66, .66, .65,
           .64, .642, .642, .65, .655, .66, .72, .73, .74, .76,
           .77, .71, .71, .72, .73, .745, .756, .788, .805, .833,
           .79, .769, .754, .769, .805, .84, .843, .755, .721, .759,
           .799, .909, .969, .88, .865, .878, .858, .836, .829, .82,
           .825, .855, .855, .838, .832, .834, .914, .902, .911, .915,
           .896, .917, .903, .874, .89, .886, .901, .893, .914, .882,
           .916, .908, .926, .922, .926, .924, .912, .906, .914, .945,
           1.03, 1.07, 1.115, 1.129, 1.066, 1.07, 1.075, 1.078, 1.064, 1.084]

tnx_sma_x = [5.6, 9.8, 16.4, 22, 28.6, 36.4, 43, 50.8, 58.6, 66.4, 67.5, 76.3, 85.2, 96.3, 105.2, 111.8, 116.2, 119.6, 124, 127.3, 131.8, 139]
tnx_sma_y = [1.267, 1.245, 1.211, 1.182, 1.139, 1.095, 1.060, 1.017, .972, .925, .919, .869, .824, .787, .753, .737, .733, .737, .738, .734, .740, .756]
tnx_y1_x = [8.5, 15.3, 20.9, 26.4, 36.4, 40.8, 44.2, 50.8, 57.5, 63.6, 69.7, 75.2, 81.9, 85.8, 89.1, 91.9, 97.4, 103.5, 116.3, 128.4, 131.8, 139.3]
tnx_y1_y = [1.267, 1.231, 1.200, 1.170, 1.131, 1.118, 1.107, 1.081, 1.060, 1.041, 1.027, 1.015, 1.003, 1.0, .994, .994, .989, .982, .975, .972, .975, .983]
tnx_m6_x = [-.4, 7, 17, 27, 36.4, 43.6, 53, 61.9, 69.7, 75.2, 81.9, 87.4, 94.1, 98.5, 104, 110.7, 119.6, 127.9, 139]
tnx_m6_y = [.959, .922, .875, .827, .807, .793, .777, .762, .762, .760, .767, .773, .787, .792, .798, .812, .827, .840, .884]
tnx_m3_x = [-.4, 3.1, 9.8, 16.4, 21.4, 25.9, 30.9, 37, 40.8, 46.4, 54.2, 60.8, 65.2, 69.7, 74.1, 79.7, 83, 86.3, 88.5, 91.9, 96.3, 103.5, 108, 111.3, 119.6, 127.3, 131.8, 135.7, 139.3]
tnx_m3_y = [.760, .750, .728, .700, .676, .662, .666, .666, .673, .674, .677, .674, .680, .694, .700, .720, .726, .742, .744, .765, .781, .797, .814, .826, .849, .868, .897, .922, .941]
tnx_m1_x = [-.4, 2.6, 6.5, 10.9, 15.3, 18.1, 22, 25.3, 29.8, 33.1, 35.3, 39.7, 44.2, 54.2, 59.7, 64.1, 69.7, 74.1, 77.4, 81.3, 86.3, 88.5, 91.9, 95.2, 99, 103, 108, 111.8, 119, 124, 127.3, 130.7, 132.9, 135.1, 139.3]
tnx_m1_y = [.697, .690, .672, .656, .637, .624, .594, .585, .624, .637, .640, .670, .670, .680, .676, .682, .723, .728, .761, .768, .801, .795, .839, .856, .853, .859, .883, .894, .908, .919, .922, .964, .994, 1.017, 1.041]
tnx_w1_x = [-.4, 3.1, 7.6, 14.8, 17.6, 19.8, 23.1, 25.9, 28.1, 30.3, 32.5, 34.7, 39.7, 43.1, 47.5, 54.2, 60.8, 64.1, 66.3, 69.1, 71.3, 75.3, 78, 78.9, 81.9, 84.6, 87.8, 91.9, 93, 94.4, 96.5, 99, 101.7, 103.9, 106.1, 107.4, 110.1, 111.8, 114, 116.7, 118.8, 121, 123.7, 127, 129.7, 131.8, 133.4, 136.2, 139.3]
tnx_w1_y = [.672, .670, .640, .600, .587, .559, .544, .569, .637, .677, .680, .660, .713, .675, .682, .680, .667, .682, .733, .771, .745, .760, .813, .820, .790, .828, .805, .924, .907, .907, .888, .854, .871, .854, .897, .905, .924, .924, .909, .920, .932, .929, .931, .922, 1.001, 1.078, 1.097, 1.10, 1.091]

tnx_k_x = [-.2, .9, 1.8, 2.9, 3.8, 4.8, 5.9, 6.8, 8.9, 10.3, 12, 13.9, 15, 16.8, 18.1, 19, 20, 21.7, 23.1, 24, 25, 27.2, 28.6, 30.1, 31.7, 34, 34.9, 36.4, 38.8, 40, 41.6, 42.7, 43.8, 45.3, 46.9, 48.6, 49.7, 50.8, 52.5, 53.9, 55.5, 56.9, 57.9, 59.5, 61, 62.7, 64.1, 65.6, 66.9, 68, 68.9, 70.2, 71.7, 73, 74.4, 76.3, 77.8, 79.1, 80.8, 82.1, 83.5, 85, 86, 87.4, 89, 90.4, 91.9, 93.3, 96.1, 98, 99.8, 102.1, 103.2, 104.3, 104.9, 106.8, 108.2, 109.9, 112.4, 113.1, 114, 116, 117.6, 119, 120.7, 122, 123.1, 125.1, 127, 128.7, 130.1, 131.2, 132.1, 133.1, 134.6, 136.2, 137.3, 138.2, 139.3]
tnx_k_y = [53.3, 67.9, 49.2, 44, 26.3, 39.2, 35.6, 53.3, 58.5, 51.3, 32.5, 19, 29.4, 54.4, 42.9, 20, 12.7, 13.3, 32.5, 38.8, 70, 94, 94, 94, 72.1, 32.5, 24.2, 34.6, 78.3, 77.3, 45, 19, 11.3, 32.5, 75.2, 65.8, 45, 35.6, 46, 75.2, 63.8, 41.9, 48.1, 38.8, 13.8, 34.6, 70, 74.2, 85.6, 82.5, 94, 78.3, 32.5, 17.9, 49.2, 88.8, 92.9, 84.6, 36.7, 14.8, 34.6, 80.4, 92.9, 49.2, 19, 49.2, 96.1, 82.5, 30.4, 8.5, 12.7, 70, 65.8, 34.6, 40.8, 76.3, 75.8, 61.7, 24.2, 29.4, 23.1, 45, 74.2, 78.3, 63.8, 55.4, 54.4, 38.8, 13.8, 51.3, 95, 95.4, 98.1, 90.8, 65.8, 36.7, 24.2, 16.3, 19]
tnx_d_x = [-.2, 1.5, 3, 4.5, 6, 7.5, 9.5, 11, 13, 15, 17, 18.5, 20, 21.5, 23.5, 25, 26.5, 28, 30, 32, 34, 35.5, 37.5, 39.5, 41, 43, 44.5, 46, 48, 50, 51.5, 53, 55, 57, 58.5, 60, 62, 63.5, 66, 68, 69.5, 71, 73, 75, 77.5, 79, 81, 83, 85, 87, 88.5, 90, 92, 94, 96.5, 99, 100.5, 103, 104.5, 106, 108, 110, 112, 114.5, 116.5, 118.5, 120, 122, 124, 126, 128, 130, 132, 134, 136, 138, 139.3]
tnx_d_y = [35, 55, 62, 42, 33, 45, 57, 50, 32, 22, 42, 52, 26, 16, 24, 40, 68, 90, 92, 80, 44, 30, 42, 72, 70, 32, 16, 46, 70, 55, 38, 48, 70, 50, 48, 36, 18, 50, 70, 82, 88, 66, 28, 38, 84, 90, 62, 22, 58, 86, 60, 28, 62, 82, 42, 14, 12, 60, 56, 44, 70, 70, 42, 26, 38, 68, 76, 60, 52, 34, 18, 60, 92, 88, 58, 28, 22]

tnx_band_edges = [-.5, 19.2, 27.2, 29.4, 34.4, 35.5, 36.4, 38.3, 43.4, 44.4, 46.4, 56.5, 58.4, 59.4, 62.4, 63.5, 85.5, 86.4, 91.5, 92.5, 103.4, 104.4, 127.6, 139.4]
tnx_band_colors = ['#bfdfe3', '#d1f2f7', '#e8f4fd', '#fde6e6', '#e8f4fd', '#d4e2ea', '#e9d3d3', '#fde6e6', '#d4e2ea', '#f0dcdc', '#e8c9c8', '#f0dcdc', '#d4e2ea', '#bfdfe3', '#f0dcdc', '#e8c9c8', '#f5dcdc', '#e8c9c8', '#f5dcdc', '#e8c9c8', '#ecdede', '#e8c9c8', '#fdd9d7']
tnx_sig_x = [28, 30, 35, 37, 44, 45, 47, 57, 59, 60, 63, 64, 104, 105]
tnx_sig_top = ['S', 'B', 'S', 'B', 'S', 'B', 'B', 'B', 'S', 'S', 'B', 'B', 'B', 'B']
tnx_sig_bot = ['E', '', 'E', '', 'E', '', 'K', 'E', '', 'K', '', 'K', 'E', 'K']
tnx_ticks = [.45, .5, .55, .6, .65, .7, .75, .8, .85, .9, .95, 1.0, 1.05, 1.1, 1.15, 1.2, 1.25]

fig = plt.figure(figsize=(W / 100, H / 100), dpi=100, facecolor=BG)
# pixel coordinates, origin top left
pix = Affine2D().scale(1, -1).translate(0, H)


def put(x, y, s, size, color='#000000', ha='left', va='center', clip=None, alpha=None, z=6, **kw):
    t = fig.text(x, y, s, transform=pix, fontsize=size * 0.72, color=color, ha=ha, va=va, alpha=alpha, zorder=z, **kw)
    if clip is not None:
        t.set_clip_box(Bbox.from_extents(clip[0], H - clip[3], clip[2], H - clip[1]))
        t.set_clip_on(True)
    return t


def rect(x0, y0, x1, y1, color, z=3):
    fig.add_artist(Rectangle((x0, y0), x1 - x0, y1 - y0, transform=pix, facecolor=color, edgecolor='none', zorder=z))


def hbar(x0, x1, y, color, z=6):
    fig.add_artist(plt.Line2D([x0, x1], [y, y], transform=pix, color=color, lw=1.4, zorder=z))


def make_axes(x0, y0, x1, y1, xlim, ylim):
    ax = fig.add_axes([x0 / W, 1 - y1 / H, (x1 - x0) / W, (y1 - y0) / H])
    ax.patch.set_alpha(0)
    ax.set_xlim(*xlim)
    ax.set_ylim(*ylim)
    for s in ax.spines.values():
        s.set_visible(False)
    ax.yaxis.tick_right()
    return ax


def candles(ax, o, h, l, c, width=.68):
    n = range(len(o))
    assert len(o) == len(h) == len(l) == len(c)
    edges = [RED_EDGE if c[i] >= o[i] else BLUE_EDGE for i in n]
    fills = [RED_FILL if c[i] >= o[i] else BLUE_FILL for i in n]
    ax.vlines(list(n), l, h, colors=edges, lw=1.4, zorder=2)
    ax.bar(list(n), [abs(c[i] - o[i]) for i in n], bottom=[min(o[i], c[i]) for i in n], width=width,
           color=fills, edgecolor=edges, linewidth=1.4, zorder=2.1)


def dots(ax, x, y, gap):
    ax.plot(x, y, color='#3f746c', lw=5, ls=(0, (0.01, gap)), dash_capstyle='round', zorder=1)


def ma(ax, x, y, color, lw, z=3):
    ax.plot(x, y, color=color, lw=lw, zorder=z, solid_capstyle='butt')


def osc(ax, kx, ky, dx, dy, edges, colors, top, sx, stop, sbot, ys):
    for i in range(len(colors)):
        ax.axvspan(edges[i], edges[i + 1], ymin=0, ymax=top, color=colors[i], lw=0, zorder=0)
    ax.axhline(80, color='#5d606b', lw=2.3, zorder=1)
    ax.axhline(20, color='#5d606b', lw=2.3, zorder=1)
    ax.plot(dx, dy, color='#2aa3ff', lw=1.6, zorder=2)
    ax.plot(kx, ky, color='#0a9bff', lw=2.6, zorder=2.1)
    trans = blended_transform_factory(ax.transData, pix)
    for x, a, b in zip(sx, stop, sbot):
        ax.text(x, ys[0], a, transform=trans, fontsize=16, ha='center', va='center', zorder=4, clip_on=True)
        if b:
            ax.text(x, ys[1], b, transform=trans, fontsize=16, ha='center', va='center', zorder=4, clip_on=True)
        ax.plot([x], [ys[2]], marker='|', ms=4, mew=1.2, color='#f44336' if a == 'B' else '#2196f3',
                transform=trans, zorder=4, clip_on=True)


def price_box(label, y, value, xb0, xb1, xv0, xv1, xtext):
    rect(xb0, y - 18, xb1, y + 18, BOX)
    rect(xv0, y - 18, xv1, y + 18, BOX)
    put((xb0 + xb1) / 2, y, label, 24, '#131722', ha='center')
    hbar(xv0, xv0 + 8, y, '#131722')
    put(xtext, y, value, 23, '#131722')


def panel_labels(items, clip):
    for x, y, s, color, alpha in items:
        put(x, y, s, 23, color, clip=clip, alpha=alpha)


def ax_ticks(ax, ticks, labels, pad):
    ax.set_yticks(ticks)
    ax.set_yticklabels(labels)
    ax.tick_params(axis='y', length=0, pad=pad * 0.72, labelsize=23 * 0.72, labelcolor=GREY)
    ax.tick_params(axis='x', length=0)


def time_ticks(ax, pos, labels):
    ax.set_xticks(pos)
    ax.set_xticklabels(labels)
    ax.tick_params(axis='x', length=0, pad=14, labelsize=23 * 0.72, labelcolor=GREY)


# header lines
hdr_clip1 = (0, 0, 1068, 90)
hdr_clip2 = (1070, 0, 2127, 90)
hdr_clip3 = (2130, 0, 3196, 90)
put(14, 30, 'kowatasan TradingView.com で公開, 1月 21, 2021 10:23:27 JST', 30, '#ffffff')
for x, s, col, cl in [
    (14, 'TVC:DXY, 1D 90.325', '#ffffff', hdr_clip1), (365, '−0.150 (−0.17%) O:', '#ffffff', hdr_clip1),
    (669, '90.418', '#ef5350', hdr_clip1), (785, 'H:', '#ffffff', hdr_clip1), (821, '90.452', '#ef5350', hdr_clip1),
    (938, 'L:', '#ffffff', hdr_clip1), (966, '90.312', '#ef5350', hdr_clip1),
    (1074, 'FX:USDJPY, 1D 103.511', '#ffffff', hdr_clip2), (1476, '−0.022 (−0.02%) O:', '#ffffff', hdr_clip2),
    (1780, '103.533', '#ef5350', hdr_clip2), (1916, 'H:', '#ffffff', hdr_clip2), (1952, '103.667', '#ef5350', hdr_clip2),
    (2089, 'L:', '#ffffff', hdr_clip2), (2116, '103.42', '#ef5350', hdr_clip2),
    (2133, 'TVC:US10Y, 1D 1.087', '#ffffff', hdr_clip3), (2504, '+0.002 (+0.16%) O:', '#ffffff', hdr_clip3),
    (2808, '1.085', '#26a69a', hdr_clip3), (2905, 'H:', '#ffffff', hdr_clip3), (2940, '1.090', '#26a69a', hdr_clip3),
    (3037, 'L:', '#ffffff', hdr_clip3), (3066, '1.084', '#26a69a', hdr_clip3), (3161, 'C', '#ffffff', hdr_clip3)]:
    put(x, 63, s, 30, col, clip=cl)
for xc, col, up in [(346, '#ef5350', False), (1456, '#ef5350', False), (2485, '#26a69a', True)]:
    pts = [(xc - 9, 70), (xc + 9, 70), (xc, 49)] if up else [(xc - 9, 50), (xc + 9, 50), (xc, 71)]
    fig.add_artist(Polygon(pts, transform=pix, facecolor=col, edgecolor='none', zorder=6))

# white panel backgrounds
rect(14, 88, 1060, 1790, '#ffffff', z=-2)
rect(1074, 88, 2122, 1790, '#ffffff', z=-2)
rect(2135, 88, 3182, 1790, '#ffffff', z=-2)

# ---------- panel 1 ----------
ax1 = make_axes(14, 88, 932, 1544, (-.8, 155.6), (-9.362, 2.389))
dots(ax1, dxy_sma_x, dxy_sma_y, 1.2)
candles(ax1, dxy_open, dxy_high, dxy_low, dxy_close)
ma(ax1, dxy_y2_x, dxy_y2_y, '#00ffff', 1.9)
ma(ax1, dxy_y3_x, dxy_y3_y, '#ff66ff', 3.6)
ma(ax1, dxy_y1_x, dxy_y1_y, '#ff0000', 3.6)
ma(ax1, dxy_m6_x, dxy_m6_y, '#17ee00', 1.8)
ma(ax1, dxy_m3_x, dxy_m3_y, '#000000', 3.2)
ma(ax1, dxy_m1_x, dxy_m1_y, '#1a4fa5', 1.6)
ma(ax1, dxy_w1_x, dxy_w1_y, '#0b7a55', 1.4)
ax1.axhline(0, color='#5d606b', lw=1.5, zorder=1.5)
for v in [.43, -4.68, -8.38]:
    ax1.axhline(v, color='#787b86', lw=1.1, ls=(0, (1.6, 2.2)), zorder=0.5)
ax1.axhline(-7.25, color='#7f9fd0', lw=1.1, ls=(0, (1.6, 2.2)), zorder=0.5)
ax_ticks(ax1, dxy_ticks, [f'{v:.2f}%'.replace('-', '−') for v in dxy_ticks], 18)
ax1.set_xticks([])

osc1 = make_axes(14, 1544, 932, 1732, (-.8, 155.6), (-.5, 101.1))
osc(osc1, dxy_k_x, dxy_k_y, dxy_d_x, dxy_d_y, dxy_band_edges, dxy_band_colors, 1,
    dxy_sig_x, dxy_sig_top, dxy_sig_bot, (1583, 1607, 1566))
ax_ticks(osc1, [80, 40], ['80.000', '40.000'], 18)
time_ticks(osc1, [.2, 43.7, 87.3, 131], ['7月', '9月', '11月', '2021'])

clip1 = (14, 88, 932, 1732)
panel_labels([(875, 624, '3年平均', '#ff66ff', None), (875, 648, '2年平均', '#00e5ff', None),
              (877, 757, '200SMA', '#3f746c', None), (875, 800, '1年平均', '#ff2a2a', None),
              (863, 1010, '6ヶ月平均', '#17ee00', None), (863, 1166, '3ヶ月平均', '#333333', None),
              (865, 1251, '1週間平均', '#0b7a55', .75), (865, 1263, '1ヶ月平均', '#1a4fa5', .65),
              (826, 1582, 'SE:逆行上', '#64b5f6', None), (826, 1605, 'エントリー', '#64b5f6', None),
              (826, 1628, '決済:早め', '#64b5f6', None), (826, 1697, 'ニュートラル', '#444444', None)], clip1)
fig.add_artist(Circle((918, 772), 2, transform=pix, color='#3f746c', zorder=6))
price_box('高値', 331, '97.802', 858, 930, 932, 1038, 950)
price_box('平均', 964, '92.821', 858, 930, 932, 1038, 950)
price_box('安値', 1423, '89.209', 858, 930, 932, 1038, 950)
rect(932, 1263, 1040, 1299, '#0d459f')
hbar(932, 940, 1281, '#ffffff')
put(950, 1281, '−7.25%', 23, '#ffffff')
rect(934, 1301, 1052, 1337, '#0d459f')
put(993, 1319, '22:36:35', 23, '#ffffff', ha='center')
fig.add_artist(FancyBboxPatch((970, 102), 55, 36, boxstyle='round,pad=0,rounding_size=5', transform=pix,
                              facecolor='#ffffff', edgecolor='#d1d4dc', lw=1.2, zorder=4))
put(997, 119, 'USD', 22, GREY, ha='center')

# ---------- panel 2 ----------
ax2 = make_axes(1074, 88, 1994, 1544, (-.51, 154.6), (102.051, 108.846))
dots(ax2, jpy_sma_x, jpy_sma_y, 1.2)
candles(ax2, jpy_open, jpy_high, jpy_low, jpy_close)
ma(ax2, jpy_y2_x, jpy_y2_y, '#00ffff', 1.9)
ma(ax2, jpy_y3_x, jpy_y3_y, '#ff66ff', 3.6)
ma(ax2, jpy_y1_x, jpy_y1_y, '#ff0000', 3.6)
ma(ax2, jpy_m6_x, jpy_m6_y, '#17ee00', 1.8)
ma(ax2, jpy_m3_x, jpy_m3_y, '#000000', 3.2)
ma(ax2, jpy_m1_x, jpy_m1_y, '#1a4fa5', 1.6)
ma(ax2, jpy_w1_x, jpy_w1_y, '#0b7a55', 1.4)
for v in [108.165, 105.147, 102.591]:
    ax2.axhline(v, color='#787b86', lw=1.1, ls=(0, (1.6, 2.2)), zorder=0.5)
ax2.axhline(103.511, color='#7f9fd0', lw=1.1, ls=(0, (1.6, 2.2)), zorder=0.5)
ax_ticks(ax2, jpy_ticks, [f'{v:.3f}' for v in jpy_ticks], 19)
ax2.set_xticks([])

osc2 = make_axes(1074, 1544, 1994, 1732, (-.51, 154.6), (-2.8, 101.7))
osc(osc2, jpy_k_x, jpy_k_y, jpy_d_x, jpy_d_y, jpy_band_edges, jpy_band_colors, .986,
    jpy_sig_x, jpy_sig_top, jpy_sig_bot, (1583, 1610, 1569))
ax_ticks(osc2, [80, 40, 0], ['80.000', '40.000', '0.000'], 19)
time_ticks(osc2, [1.26, 44.3, 88.4, 131.2], ['7月', '9月', '11月', '2021'])

clip2 = (1074, 88, 1994, 1732)
put(1091, 125, '米ドル／円, 1日, FXCM', 32, GREY, z=5)
put(1091, 160, 'LIZ AUTO PILOT', 32, GREY, z=5)
put(1091, 194, 'LIZ EMA', 32, GREY, z=5)
put(1091, 1583, 'LIZ W STCH & TREND', 32, GREY, z=5)
panel_labels([(1937, 280, '3年平均', '#ff66ff', None), (1937, 434, '2年平均', '#00e5ff', None),
              (1937, 718, '1年平均', '#ff2a2a', None), (1939, 735, '200SMA', '#3f746c', None),
              (1925, 948, '6ヶ月平均', '#17ee00', None), (1925, 1099, '3ヶ月平均', '#333333', None),
              (1923, 1183, '1週間平均', '#0b7a55', .75), (1923, 1176, '1ヶ月平均', '#1a4fa5', .55),
              (1886, 1585, 'SK:順行下', '#64b5f6', None), (1886, 1608, '売キープ', '#64b5f6', None),
              (1886, 1698, 'ニュートラル', '#444444', None)], clip2)
fig.add_artist(Circle((1979, 750), 2, transform=pix, color='#3f746c', zorder=6))
price_box('高値', 233.5, '108.165', 1920, 1992, 1994, 2114, 2013)
price_box('平均', 880, '105.147', 1920, 1992, 1994, 2114, 2013)
price_box('安値', 1426, '102.591', 1920, 1992, 1994, 2114, 2013)
rect(1994, 1211, 2114, 1247, '#0d459f')
hbar(1994, 2002, 1229, '#ffffff')
put(2013, 1229, '103.511', 23, '#ffffff')
rect(1996, 1250, 2114, 1286, '#0d459f')
put(2055, 1268, '20:36:35', 23, '#ffffff', ha='center')
put(2058, 99, 'JPY', 22, GREY, ha='center')

# sell marker
rect(1164, 720, 1239, 767, '#00bcd4', z=5)
fig.add_artist(Polygon([(1183, 767), (1218, 767), (1201, 784)], transform=pix, facecolor='#00bcd4', edgecolor='none', zorder=5))
put(1201, 744, 'Sell', 24, '#ffffff', ha='center')

# calendar markers beside the last bars
for yc, txt, tx in [(1468, '11', 1948), (1516, '705', 1948)]:
    fig.add_artist(Arc((1938, yc), 46, 46, theta1=-75, theta2=75, transform=pix, color='#ffa726', lw=1.6, zorder=5))
    fig.add_artist(Circle((1932, yc), 22, transform=pix, facecolor='#f0f3fa', edgecolor='#f7525f', lw=2.4, zorder=5))
    put(tx, yc - 13, txt, 22, '#000000', z=7)
fig.add_artist(Circle((1932, 1468), 7, transform=pix, color='#f7525f', zorder=6))
rect(1917, 1508, 1947, 1522, '#f0f3fa', z=6)
rect(1917, 1503, 1932, 1515, '#4a86d8', z=6)
rect(1917, 1518, 1947, 1522, '#f7525f', z=6)
rect(1932, 1508, 1947, 1512, '#f7525f', z=6)

# ---------- panel 3 ----------
ax3 = make_axes(2135, 88, 3053, 1544, (-.49, 149.3), (.4438, 1.2679))
dots(ax3, tnx_sma_x, tnx_sma_y, 1.75)
candles(ax3, tnx_open, tnx_high, tnx_low, tnx_close)
ma(ax3, tnx_y1_x, tnx_y1_y, '#ff0000', 3.6)
ma(ax3, tnx_m6_x, tnx_m6_y, '#17ee00', 1.8)
ma(ax3, tnx_m3_x, tnx_m3_y, '#000000', 3.2)
ma(ax3, tnx_m1_x, tnx_m1_y, '#1a4fa5', 1.6)
ma(ax3, tnx_w1_x, tnx_w1_y, '#0b7a55', 1.4)
for v in [1.184, .782, .504]:
    ax3.axhline(v, color='#787b86', lw=1.1, ls=(0, (1.6, 2.2)), zorder=0.5)
ax3.axhline(1.087, color='#f7908c', lw=1.1, ls=(0, (1.6, 2.2)), zorder=0.5)
ax_ticks(ax3, tnx_ticks, [f'{v:.3f}' for v in tnx_ticks], 20)
ax3.set_xticks([])

osc3 = make_axes(2135, 1544, 3053, 1732, (-.49, 149.3), (0, 117.5))
osc(osc3, tnx_k_x, tnx_k_y, tnx_d_x, tnx_d_y, tnx_band_edges, tnx_band_colors, .931,
    tnx_sig_x, tnx_sig_top, tnx_sig_bot, (1599, 1624, 1581))
ax_ticks(osc3, [80, 40], ['80.000', '40.000'], 20)
time_ticks(osc3, [41.6, 84.6, 126.8], ['9月', '11月', '2021'])

clip3 = (2135, 88, 3053, 1732)
put(2154, 125, '米国債10年利回り, 1日, TVC', 32, GREY, z=5)
put(2154, 160, 'LIZ AUTO PILOT', 32, GREY, z=5)
put(2154, 194, 'LIZ EMA', 32, GREY, z=5)
put(2154, 1593, 'LIZ W STCH & TREND', 32, GREY, z=5)
panel_labels([(2985, 382, '1週間平均', '#0b7a55', .85), (2985, 472, '1ヶ月平均', '#1a4fa5', .85),
              (2997, 574, '1年平均', '#ff2a2a', None), (2985, 648, '3ヶ月平均', '#333333', None),
              (2985, 748, '6ヶ月平均', '#17ee00', None), (2999, 977, '200SMA', '#3f746c', None),
              (2948, 1599, 'BK:逆行下', '#c62828', .75), (2948, 1623, '押目買', '#c62828', .75),
              (2948, 1671, '売られ過ぎ', '#64b5f6', None), (2948, 1696, '(張付:強い', '#64b5f6', None)], clip3)
fig.add_artist(Circle((3038, 993), 2, transform=pix, color='#3f746c', zorder=6))
price_box('高値', 235, '1.184', 2980, 3052, 3054, 3148, 3073)
price_box('平均', 945, '0.782', 2980, 3052, 3054, 3148, 3073)
price_box('安値', 1436, '0.504', 2980, 3052, 3054, 3148, 3073)
rect(3054, 388, 3148, 424, '#f44336')
hbar(3054, 3062, 406, '#ffffff')
put(3073, 406, '1.087', 23, '#ffffff')
rect(3056, 426, 3174, 462, '#f44336')
put(3115, 444, '21:21:35', 23, '#ffffff', ha='center')
put(3118, 99, 'USD', 22, GREY, ha='center')

# buy marker
rect(2577, 998, 2653, 1045, '#f06292', z=5)
fig.add_artist(Polygon([(2592, 998), (2634, 998), (2614, 981)], transform=pix, facecolor='#f06292', edgecolor='none', zorder=5))
put(2615, 1022, 'Buy', 24, '#ffffff', ha='center')

# masks for text running past the pane edges
rect(0, 1544, 14, 1790, BG, z=2)
rect(1060, 1544, 1074, 1790, BG, z=2)
rect(1994, 1732, 2122, 1745, '#ffffff', z=2)

# logo at the bottom
for cx, cy, r in [(22, 1834, 9), (38, 1825, 12), (54, 1834, 9)]:
    fig.add_artist(Circle((cx, cy), r, transform=pix, color='#2196f3', zorder=5))
rect(13, 1834, 63, 1843, '#2196f3', z=5)
fig.add_artist(plt.Line2D([20, 29, 43, 52], [1843, 1826, 1838, 1824], transform=pix, color='#131722', lw=1.6, zorder=6))
put(68, 1828, 'TradingView', 26, '#d1d4dc')

fig.savefig('out.png', dpi=100, facecolor=BG)
